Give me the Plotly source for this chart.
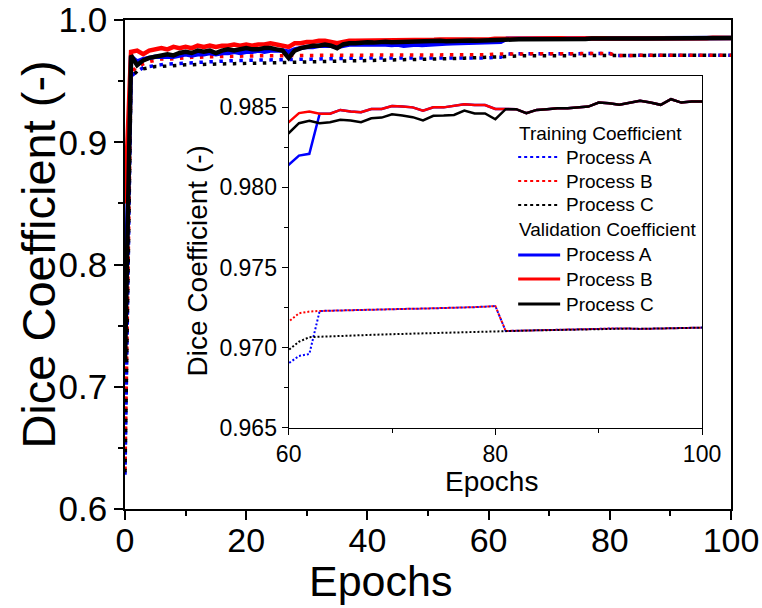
import plotly.graph_objects as go

epochs = list(range(0, 101))

train_a = [0.628, 0.954, 0.958, 0.961, 0.962, 0.963, 0.9635, 0.964, 0.9643, 0.9646, 0.965,
           0.9652, 0.9655, 0.9657, 0.966, 0.9662, 0.9664, 0.9666, 0.9668, 0.9669, 0.967,
           0.9672, 0.9674, 0.9676, 0.9678, 0.968, 0.9681, 0.9682, 0.9683, 0.9684, 0.9685,
           0.9686, 0.9687, 0.9688, 0.9689, 0.969, 0.969, 0.9691, 0.9691, 0.969, 0.969,
           0.969, 0.9689, 0.9689, 0.9688, 0.9688, 0.9687, 0.9688, 0.9688, 0.9687, 0.9688,
           0.9688, 0.9689, 0.9689, 0.9689, 0.969, 0.969, 0.969, 0.969, 0.969, 0.96901,
           0.96947, 0.96959, 0.97228, 0.9723, 0.97232, 0.97234, 0.97236, 0.97237, 0.97238, 0.9724,
           0.97241, 0.97242, 0.97243, 0.97244, 0.97245, 0.97247, 0.97249, 0.97252, 0.97255, 0.97259,
           0.97103, 0.97104, 0.97105, 0.97107, 0.97108, 0.97109, 0.9711, 0.97112, 0.97114, 0.97116,
           0.97118, 0.97119, 0.97118, 0.97116, 0.97118, 0.9712, 0.97121, 0.97122, 0.97123, 0.97124]

train_b = [0.632, 0.957, 0.962, 0.964, 0.966, 0.967, 0.968, 0.968, 0.9685, 0.969, 0.969,
           0.9695, 0.9695, 0.97, 0.97, 0.97, 0.9702, 0.9703, 0.9704, 0.9705, 0.9705,
           0.9706, 0.9707, 0.9707, 0.9708, 0.9708, 0.9709, 0.9709, 0.971, 0.971, 0.971,
           0.9711, 0.9711, 0.9711, 0.9712, 0.9712, 0.9712, 0.9712, 0.9713, 0.9713, 0.9713,
           0.9713, 0.9713, 0.9714, 0.9714, 0.9714, 0.9714, 0.9714, 0.9714, 0.9715, 0.9715,
           0.9715, 0.9715, 0.9715, 0.9715, 0.9715, 0.9716, 0.9716, 0.9716, 0.9716, 0.97161,
           0.97214, 0.97224, 0.97228, 0.9723, 0.97232, 0.97234, 0.97236, 0.97237, 0.97238, 0.9724,
           0.97241, 0.97242, 0.97243, 0.97244, 0.97245, 0.97247, 0.97249, 0.97252, 0.97255, 0.97259,
           0.97103, 0.97104, 0.97105, 0.97107, 0.97108, 0.97109, 0.9711, 0.97112, 0.97114, 0.97116,
           0.97118, 0.97119, 0.97118, 0.97116, 0.97118, 0.9712, 0.97121, 0.97122, 0.97123, 0.97124]

train_c = [0.630, 0.953, 0.958, 0.96, 0.961, 0.962, 0.962, 0.9625, 0.963, 0.963, 0.9633,
           0.9635, 0.9636, 0.9638, 0.9639, 0.964, 0.9641, 0.9642, 0.9643, 0.9644, 0.9645,
           0.9646, 0.9648, 0.9649, 0.965, 0.9651, 0.9653, 0.9654, 0.9655, 0.9657, 0.9658,
           0.9659, 0.966, 0.9661, 0.9662, 0.9664, 0.9665, 0.9666, 0.9667, 0.9668, 0.967,
           0.9671, 0.9672, 0.9673, 0.9674, 0.9675, 0.9676, 0.9677, 0.9678, 0.9679, 0.968,
           0.9681, 0.9682, 0.9684, 0.9685, 0.9686, 0.9688, 0.969, 0.9692, 0.9695, 0.96984,
           0.97036, 0.97064, 0.97067, 0.9707, 0.97073, 0.97075, 0.97077, 0.97079, 0.97081, 0.97083,
           0.97085, 0.97087, 0.97088, 0.9709, 0.97092, 0.97094, 0.97096, 0.97098, 0.971, 0.97103,
           0.97103, 0.97104, 0.97105, 0.97107, 0.97108, 0.97109, 0.9711, 0.97112, 0.97114, 0.97116,
           0.97118, 0.97119, 0.97118, 0.97116, 0.97118, 0.9712, 0.97121, 0.97122, 0.97123, 0.97124]

val_a = [0.75, 0.970, 0.966, 0.968, 0.969, 0.97, 0.97, 0.97, 0.97, 0.971, 0.972,
         0.971, 0.972, 0.972, 0.973, 0.972, 0.973, 0.973, 0.974, 0.973, 0.974,
         0.974, 0.975, 0.974, 0.975, 0.975, 0.975, 0.974, 0.976, 0.977, 0.978,
         0.978, 0.979, 0.979, 0.979, 0.978, 0.979, 0.98, 0.98, 0.98, 0.9805,
         0.98, 0.9805, 0.98, 0.9795, 0.98, 0.979, 0.9795, 0.98, 0.9795, 0.98,
         0.9802, 0.9805, 0.9808, 0.981, 0.9812, 0.9811, 0.9813, 0.9812, 0.9813, 0.98141,
         0.98199, 0.9821, 0.9846, 0.9846, 0.98484, 0.98474, 0.9847, 0.9849, 0.9849, 0.98509,
         0.98505, 0.985, 0.9848, 0.985, 0.985, 0.9851, 0.9852, 0.98515, 0.98515, 0.9849,
         0.98489, 0.98489, 0.98464, 0.98484, 0.98489, 0.98495, 0.98495, 0.985, 0.98505, 0.9853,
         0.98526, 0.98516, 0.9853, 0.98541, 0.9853, 0.98516, 0.98551, 0.9853, 0.98536, 0.98536]

val_b = [0.85, 0.974, 0.975, 0.972, 0.975, 0.976, 0.977, 0.976, 0.978, 0.977, 0.978,
         0.977, 0.979, 0.978, 0.979, 0.978, 0.979, 0.979, 0.98, 0.979, 0.98,
         0.979, 0.98, 0.98, 0.981, 0.98, 0.979, 0.978, 0.981, 0.981, 0.982,
         0.982, 0.983, 0.983, 0.982, 0.981, 0.982, 0.983, 0.983, 0.983, 0.9835,
         0.9832, 0.9836, 0.9838, 0.9835, 0.9836, 0.9834, 0.9837, 0.9838, 0.9836, 0.9839,
         0.9838, 0.984, 0.9839, 0.9841, 0.984, 0.9838, 0.9841, 0.984, 0.9842, 0.98407,
         0.98464, 0.98474, 0.9846, 0.9846, 0.98484, 0.98474, 0.9847, 0.9849, 0.9849, 0.98509,
         0.98505, 0.985, 0.9848, 0.985, 0.985, 0.9851, 0.9852, 0.98515, 0.98515, 0.9849,
         0.98489, 0.98489, 0.98464, 0.98484, 0.98489, 0.98495, 0.98495, 0.985, 0.98505, 0.9853,
         0.98526, 0.98516, 0.9853, 0.98541, 0.9853, 0.98516, 0.98551, 0.9853, 0.98536, 0.98536]

val_c = [0.72, 0.971, 0.963, 0.967, 0.969, 0.97, 0.971, 0.972, 0.971, 0.973, 0.974,
         0.973, 0.975, 0.974, 0.975, 0.973, 0.975, 0.976, 0.975, 0.976, 0.977,
         0.976, 0.976, 0.977, 0.977, 0.976, 0.975, 0.969, 0.975, 0.977, 0.978,
         0.979, 0.979, 0.98, 0.979, 0.977, 0.98, 0.981, 0.981, 0.9815, 0.9818,
         0.9815, 0.982, 0.9822, 0.9818, 0.982, 0.9815, 0.982, 0.9822, 0.982, 0.9826,
         0.9828, 0.983, 0.9826, 0.9829, 0.983, 0.9828, 0.9832, 0.9831, 0.9834, 0.98339,
         0.98401, 0.98416, 0.98401, 0.98407, 0.98422, 0.98418, 0.98407, 0.98432, 0.98436, 0.98457,
         0.98449, 0.98439, 0.98418, 0.98447, 0.98449, 0.98453, 0.9848, 0.98462, 0.98462, 0.98426,
         0.98489, 0.98489, 0.98464, 0.98484, 0.98489, 0.98495, 0.98495, 0.985, 0.98505, 0.9853,
         0.98526, 0.98516, 0.9853, 0.98541, 0.9853, 0.98516, 0.98551, 0.9853, 0.98536, 0.98536]

series_names = ["Process A", "Process B", "Process C"]
group_titles = ["Training Coefficient", "Validation Coefficient"]
x_title = "Epochs"
y_title = "Dice Coefficient (-)"
colors = ["#0000ff", "#ff0000", "#000000"]
train = [train_a, train_b, train_c]
val = [val_a, val_b, val_c]

FONT = "Liberation Sans, Arial, sans-serif"

W, H = 762, 608
# main plot area in pixels
ML, MR, MT, MB = 124.5, 731, 20, 509
PW, PH = MR - ML, MB - MT
# inset area in pixels
IL, IR, IT, IB = 288.3, 702, 76, 427.5


def px_x(p):
    return (p - ML) / PW


def px_y(p):
    return (MB - p) / PH


fig = go.Figure()

# main plot
for i in range(3):
    fig.add_trace(go.Scatter(x=epochs, y=train[i], mode="lines", showlegend=False,
                             line=dict(color=colors[i], width=3.5, dash="3.5px,6.5px"),
                             xaxis="x", yaxis="y"))
for i in range(3):
    fig.add_trace(go.Scatter(x=epochs, y=val[i], mode="lines", showlegend=False,
                             line=dict(color=colors[i], width=4.5),
                             xaxis="x", yaxis="y"))

# inset
for i in range(3):
    fig.add_trace(go.Scatter(x=epochs, y=train[i], mode="lines", name=series_names[i], showlegend=False,
                             line=dict(color=colors[i], width=2, dash="2px,2px"),
                             xaxis="x2", yaxis="y2"))
for i in range(3):
    fig.add_trace(go.Scatter(x=epochs, y=val[i], mode="lines", name=series_names[i], showlegend=False,
                             line=dict(color=colors[i], width=2.5),
                             xaxis="x2", yaxis="y2"))

fig.add_shape(type="rect", xref="x2 domain", yref="y2 domain", x0=0, x1=1, y0=0, y1=1,
              fillcolor="white", line=dict(width=0), layer="below")

# hand-built legend inside the inset
LEG_FS = 19
row_y = [133, 157, 181, 205, 230, 255, 279, 304]
LEG_X0, LEG_LINE1, LEG_TEXT = 518, 560, 564
annotations = []
r = 0
for g, (title, dash, lw) in enumerate([(group_titles[0], "dot", 2), (group_titles[1], "solid", 3)]):
    annotations.append(dict(x=px_x(LEG_X0 - 1), y=px_y(row_y[r]), xref="paper", yref="paper",
                            text=title, showarrow=False, xanchor="left", yanchor="middle",
                            font=dict(size=LEG_FS, family=FONT, color="black")))
    r += 1
    for i in range(3):
        fig.add_shape(type="line", xref="paper", yref="paper",
                      x0=px_x(LEG_X0), x1=px_x(LEG_LINE1), y0=px_y(row_y[r]), y1=px_y(row_y[r]),
                      line=dict(color=colors[i], width=lw, dash=dash))
        annotations.append(dict(x=px_x(LEG_TEXT), y=px_y(row_y[r]), xref="paper", yref="paper",
                                text=series_names[i], showarrow=False, xanchor="left", yanchor="middle",
                                font=dict(size=LEG_FS, family=FONT, color="black")))
        r += 1

# axis titles placed as in the reference
annotations += [
    dict(x=px_x(380), y=px_y(581), xref="paper", yref="paper", text=x_title, showarrow=False,
         xanchor="center", yanchor="middle", borderpad=0,
         font=dict(size=43, family=FONT, color="black")),
    dict(x=px_x(38), y=px_y(255), xref="paper", yref="paper", text=y_title, showarrow=False,
         textangle=-90, xanchor="center", yanchor="middle", font=dict(size=47, family=FONT, color="black")),
    dict(x=px_x(491), y=px_y(481), xref="paper", yref="paper", text=x_title, showarrow=False,
         xanchor="center", yanchor="middle", font=dict(size=28, family=FONT, color="black")),
    dict(x=px_x(197), y=px_y(261), xref="paper", yref="paper", text=y_title, showarrow=False,
         textangle=-90, xanchor="center", yanchor="middle", font=dict(size=28, family=FONT, color="black")),
]

axis_common = dict(showgrid=False, zeroline=False, showline=True, linecolor="black",
                   mirror=True, ticks="outside", tickcolor="black", automargin=False)

fig.update_layout(
    width=W, height=H, margin=dict(l=ML, r=W - MR, t=MT, b=H - MB, autoexpand=False),
    paper_bgcolor="white", plot_bgcolor="white",
    font=dict(family=FONT, color="black"),
    showlegend=False,
    annotations=annotations,
    xaxis=dict(domain=[0, 1], range=[0, 100], anchor="y",
               tickvals=[0, 20, 40, 60, 80, 100], ticklen=9, tickwidth=1.5, linewidth=1.5,
               minor=dict(tickvals=[10, 30, 50, 70, 90], ticklen=5, tickwidth=1.5, ticks="outside", tickcolor="black"),
               tickfont=dict(size=34), ticklabelstandoff=-9, **axis_common),
    yaxis=dict(domain=[0, 1], range=[0.6, 1.0], anchor="x",
               tickvals=[0.6, 0.7, 0.8, 0.9, 1.0], tickformat=".1f", ticklen=9, tickwidth=1.5, linewidth=1.5,
               minor=dict(tickvals=[0.65, 0.75, 0.85, 0.95], ticklen=5, tickwidth=1.5, ticks="outside", tickcolor="black"),
               tickfont=dict(size=35), **axis_common),
    xaxis2=dict(domain=[px_x(IL), px_x(IR)], range=[60, 100], anchor="y2",
                tickvals=[60, 80, 100], ticklen=6, tickwidth=1.2, linewidth=1.2,
                minor=dict(tickvals=[70, 90], ticklen=4, tickwidth=1.2, ticks="outside", tickcolor="black"),
                tickfont=dict(size=23), **axis_common),
    yaxis2=dict(domain=[px_y(IB), px_y(IT)], range=[0.965, 0.98696], anchor="x2",
                tickvals=[0.965, 0.970, 0.975, 0.980, 0.985], tickformat=".3f",
                ticklen=6, tickwidth=1.2, linewidth=1.2,
                minor=dict(tickvals=[0.9675, 0.9725, 0.9775, 0.9825], ticklen=4, tickwidth=1.2, ticks="outside", tickcolor="black"),
                tickfont=dict(size=23), **axis_common),
)

fig.write_html("out.html")
